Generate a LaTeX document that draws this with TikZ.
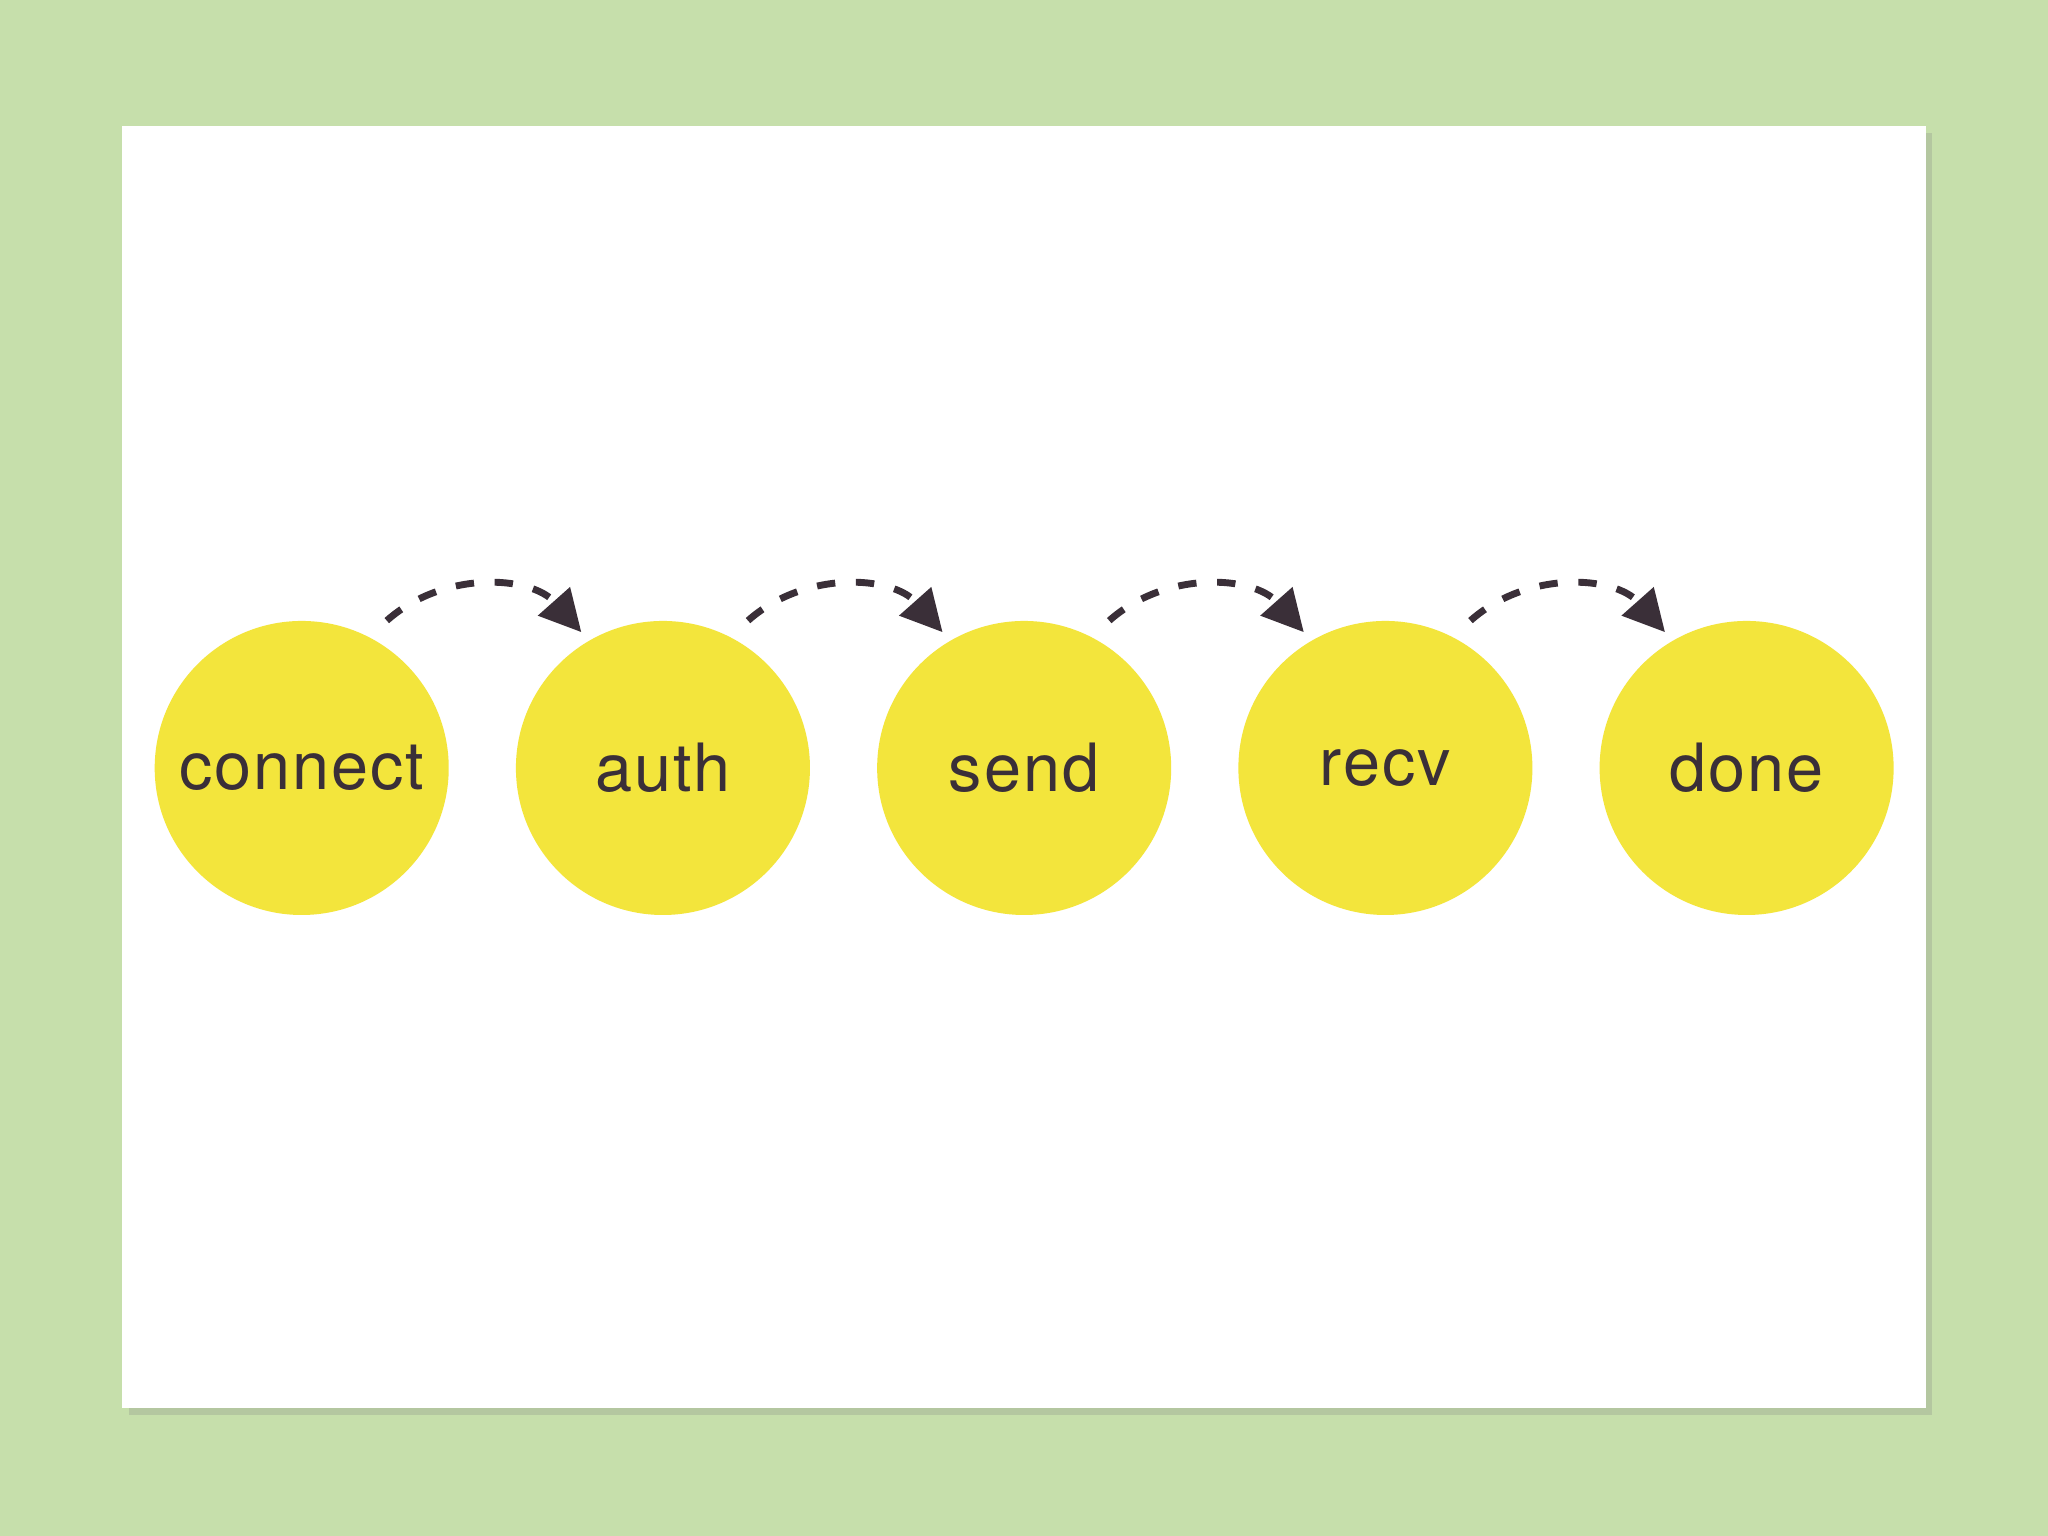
\documentclass[tikz,border=0pt]{standalone}
\usepackage{fontspec}
\setmainfont{TeX Gyre Heros}
\usetikzlibrary{arrows.meta, positioning, shadows}
\definecolor{bggreen}{HTML}{C6DFAB}
\definecolor{stepyellow}{HTML}{F3E53C}
\definecolor{arrowdark}{HTML}{3A2F38}
\begin{document}
\begin{tikzpicture}[x=0.01cm, y=0.01cm,
	state/.style={circle, fill=stepyellow, minimum size=2.25cm, inner sep=0pt,
		font={\fontsize{14.5}{17}\selectfont\addfontfeatures{LetterSpace=3}}, text=arrowdark},
	flow/.style={draw=arrowdark, line width=1.5pt, dash pattern=on 4pt off 4.5pt,
		-{Triangle[length=9pt, width=9pt, fill=arrowdark]}}]

	\fill[bggreen] (0,0) rectangle (1568,1176);
	\useasboundingbox (0,0) rectangle (1568,1176);
	\node[fill=white, minimum width=13.8cm, minimum height=9.81cm, inner sep=0pt,
		drop shadow={shadow xshift=0.5mm, shadow yshift=-0.5mm, opacity=0.25}] (card) at (784,588.5) {};

	\node[state] (c1) at (231,588) {connect};
	\node[state, right=0.5cm of c1] (c2) {auth};
	\node[state, right=0.5cm of c2] (c3) {send};
	\node[state, right=0.5cm of c3] (c4) {recv};
	\node[state, right=0.5cm of c4] (c5) {done};

	\foreach \a/\b in {c1/c2, c2/c3, c3/c4, c4/c5}
		\draw[flow] ([shift={(60:0.17cm)}]\a.60) to[bend left=45] ([shift={(121:0.08cm)}]\b.121);
\end{tikzpicture}
\end{document}
